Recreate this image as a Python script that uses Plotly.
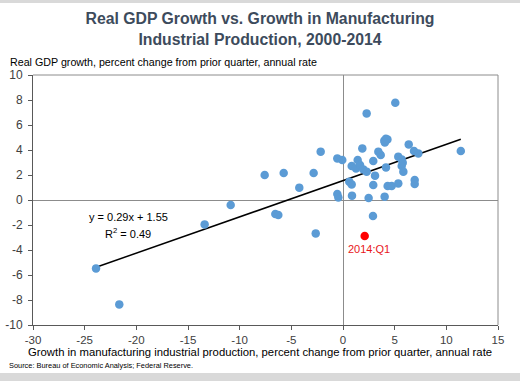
import plotly.graph_objects as go

# Manufacturing IP growth (x) vs real GDP growth (y), quarterly, 2000-2014
ip_growth = [5.06, 2.29, 4.0, 4.15, 4.3, 4.05, 6.36, 11.4, -2.16, 1.87, 3.42, 3.65,
             6.87, 7.29, 5.35, 5.68, 5.78, 5.68, 5.84, -0.55, -0.07, 2.93, 1.42, 0.84,
             1.26, 1.65, 1.97, 2.29, 4.16, 3.1, -7.58, -5.74, -2.84, -4.23, 0.61, 0.84,
             2.93, 4.32, 4.71, 5.35, 6.94, 6.94, -0.55, -0.45, 0.87, 2.48, 4.03, -6.55,
             -6.26, 2.9, -2.64, -10.87, -13.39, -23.9, -21.65]
gdp_growth = [7.78, 6.93, 4.75, 4.9, 4.85, 4.6, 4.45, 3.92, 3.87, 4.13, 3.87, 3.6,
              3.92, 3.73, 3.47, 3.25, 2.99, 2.72, 2.27, 3.33, 3.2, 3.12, 3.2, 2.72,
              2.53, 2.8, 2.45, 2.27, 2.61, 1.95, 2.0, 2.16, 2.16, 0.99, 1.47, 1.25,
              1.2, 1.12, 1.12, 1.33, 1.6, 1.28, 0.48, 0.21, 0.35, 0.16, 0.27, -1.12,
              -1.2, -1.28, -2.67, -0.4, -1.95, -5.47, -8.35]

q1_label = "2014:Q1"
q1_x = [2.1]
q1_y = [-2.88]

slope = 0.29
intercept = 1.55
r_squared = 0.49

x_ticks = [-30, -25, -20, -15, -10, -5, 0, 5, 10, 15]
x_tick_labels = ["-30", "-25", "-20", "-15", "-10", "-5", "0", "5", "10", "15"]
y_ticks = [-10, -8, -6, -4, -2, 0, 2, 4, 6, 8, 10]
y_tick_labels = ["-10", "-8", "-6", "-4", "-2", "0", "2", "4", "6", "8", "10"]

title_text = "Real GDP Growth vs. Growth in Manufacturing<br>Industrial Production, 2000-2014"
y_title = "Real GDP growth, percent change from prior quarter, annual rate"
x_title = "Growth in manufacturing industrial production, percent change from prior quarter, annual rate"
source_text = "Source: Bureau of Economic Analysis; Federal Reserve."

FONT = "Liberation Sans, Arial, sans-serif"
DARK = "#595959"
GREY = "#8c8c8c"

x_min = min(ip_growth)
x_max = max(ip_growth)
trend_x = [x_min, x_max]
trend_y = [slope * v + intercept for v in trend_x]

fig = go.Figure()
fig.add_trace(go.Scatter(x=trend_x, y=trend_y, mode="lines",
                         line=dict(color="black", width=1.5), hoverinfo="skip"))
fig.add_trace(go.Scatter(x=ip_growth, y=gdp_growth, mode="markers",
                         marker=dict(color="#5b9bd5", size=8.5)))
fig.add_trace(go.Scatter(x=q1_x, y=q1_y, mode="markers",
                         marker=dict(color="#ff0000", size=8.5)))

fig.add_annotation(x=q1_x[0], y=q1_y[0], text=q1_label, showarrow=False,
                   xanchor="center", yanchor="top", yshift=-5, xshift=4,
                   font=dict(family=FONT, size=11, color="#e8161b"))
fig.add_annotation(x=-20.8, y=-1.36, text=f"y = {slope}x + {intercept}", showarrow=False,
                   xanchor="center", yanchor="middle",
                   font=dict(family=FONT, size=11, color="black"))
fig.add_annotation(x=-20.8, y=-2.64, text=f"R<sup>2</sup> = {r_squared}", showarrow=False,
                   xanchor="center", yanchor="middle",
                   font=dict(family=FONT, size=11, color="black"))

# texts outside plot
fig.add_annotation(xref="paper", yref="paper", x=-0.054, y=1.05, text=y_title,
                   showarrow=False, xanchor="left", yanchor="middle",
                   font=dict(family=FONT, size=10.7, color="black"))
fig.add_annotation(xref="paper", yref="paper", x=0.489, y=-0.108, text=x_title,
                   showarrow=False, xanchor="center", yanchor="middle",
                   font=dict(family=FONT, size=11.3, color="black"))
fig.add_annotation(xref="paper", yref="paper", x=-0.0555, y=-0.16, text=source_text,
                   showarrow=False, xanchor="left", yanchor="middle",
                   font=dict(family=FONT, size=7.4, color="black"))

# top and right border of plot area, grey frame strips
fig.add_shape(type="line", xref="paper", yref="paper", x0=0, x1=1, y0=1, y1=1,
              line=dict(color=GREY, width=1))
fig.add_shape(type="line", xref="paper", yref="paper", x0=1, x1=1, y0=0, y1=1,
              line=dict(color=GREY, width=1))
fig.add_shape(type="rect", xref="paper", yref="paper", x0=-0.2, x1=1.2, y0=1.288, y1=1.4,
              line=dict(width=0), fillcolor="#d9d9d9")
fig.add_shape(type="rect", xref="paper", yref="paper", x0=-0.2, x1=1.2, y0=-0.192, y1=-0.3,
              line=dict(width=0), fillcolor="#d9d9d9")

fig.update_layout(
    width=520, height=381,
    margin=dict(l=33, r=22, t=75, b=56),
    paper_bgcolor="white", plot_bgcolor="white",
    showlegend=False,
    title=dict(text=title_text, x=0.5, xanchor="center", y=0.937, yanchor="middle",
               font=dict(family=FONT, size=15.8, color="#3d4b5c", weight="bold")),
    font=dict(family=FONT),
    xaxis=dict(range=[-30, 15], tickvals=x_ticks, ticktext=x_tick_labels,
               showgrid=False, automargin=False,
               zeroline=True, zerolinecolor=GREY, zerolinewidth=1,
               showline=True, linecolor=DARK, linewidth=1,
               ticks="outside", ticklen=4, tickcolor=DARK, ticklabelstandoff=0,
               tickfont=dict(family=FONT, size=11.5, color="#404040")),
    yaxis=dict(range=[-10, 10], tickvals=y_ticks, ticktext=y_tick_labels,
               showgrid=False, automargin=False,
               zeroline=True, zerolinecolor=GREY, zerolinewidth=1,
               showline=True, linecolor=DARK, linewidth=1,
               ticks="outside", ticklen=4, tickcolor=DARK, ticklabelstandoff=3,
               tickfont=dict(family=FONT, size=12, color="#404040")),
)

fig.write_html("out.html", config={"displayModeBar": False},
               post_script="document.body.style.margin='0px';")
